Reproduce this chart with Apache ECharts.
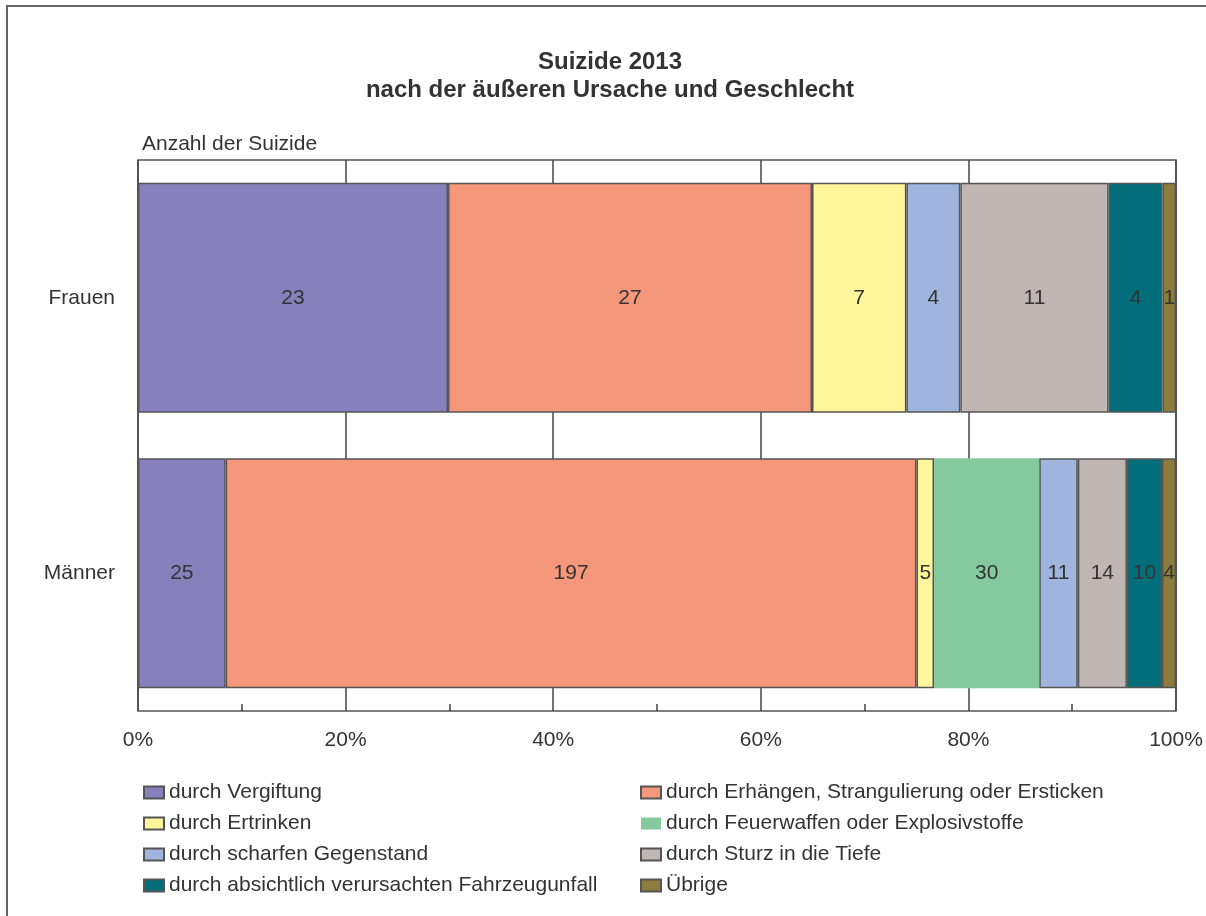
<!DOCTYPE html>
<html><head><meta charset="utf-8">
<script src="https://cdn.jsdelivr.net/npm/echarts@6/dist/echarts.min.js"></script>
<style>html,body{margin:0;padding:0;background:#fff}#c{width:1206px;height:916px}</style>
</head><body><div id="c"></div>
<script>
const categories = ['Frauen', 'Männer'];
const seriesNames = [
  'durch Vergiftung',
  'durch Erhängen, Strangulierung oder Ersticken',
  'durch Ertrinken',
  'durch Feuerwaffen oder Explosivstoffe',
  'durch scharfen Gegenstand',
  'durch Sturz in die Tiefe',
  'durch absichtlich verursachten Fahrzeugunfall',
  'Übrige'
];
const vergiftung = [23, 25];
const erhaengen = [27, 197];
const ertrinken = [7, 5];
const feuerwaffen = [0, 30];
const scharf = [4, 11];
const sturz = [11, 14];
const fahrzeug = [4, 10];
const uebrige = [1, 4];
const colors = ['#8880BD', '#F5977A', '#FFF59A', '#85C99E', '#9FB5DE', '#C0B6B3', '#016E7A', '#8E7C3C'];
const xTicks = [0, 20, 40, 60, 80, 100];

const all = [vergiftung, erhaengen, ertrinken, feuerwaffen, scharf, sturz, fahrzeug, uebrige];
const totals = categories.map((c, i) => all.reduce((s, a) => s + a[i], 0));
const font = 'Liberation Sans, Arial, sans-serif';
const fs = 21;

const series = all.map((arr, k) => ({
  name: seriesNames[k],
  type: 'bar',
  stack: 'total',
  barWidth: 230,
  itemStyle: { color: colors[k], borderColor: '#555', borderWidth: k === 3 ? 0 : 1.5 },
  label: {
    show: true, position: 'inside', color: '#333', fontSize: fs, fontFamily: font,
    formatter: p => (arr[p.dataIndex] > 0 ? String(arr[p.dataIndex]) : '')
  },
  data: arr.map((v, i) => v / totals[i] * 100)
}));

const legendText = { fontSize: fs, color: '#333', fontFamily: font };
const chart = echarts.init(document.getElementById('c'));
chart.setOption({
  animation: false,
  backgroundColor: '#fff',
  textStyle: { fontFamily: font },
  graphic: [
    { type: 'rect', shape: { x: 7, y: 6, width: 1300, height: 1000 }, style: { fill: 'none', stroke: '#666', lineWidth: 2 } },
    { type: 'text', x: 610, y: 62, style: { text: 'Suizide 2013', fontSize: 24, fontWeight: 'bold', fill: '#333', fontFamily: font, align: 'center', verticalAlign: 'middle' } },
    { type: 'text', x: 610, y: 90, style: { text: 'nach der äußeren Ursache und Geschlecht', fontSize: 24, fontWeight: 'bold', fill: '#333', fontFamily: font, align: 'center', verticalAlign: 'middle' } },
    { type: 'text', x: 142, y: 144, style: { text: 'Anzahl der Suizide', fontSize: fs, fill: '#333', fontFamily: font, verticalAlign: 'middle' } }
  ],
  legend: [
    {
      data: [seriesNames[0], seriesNames[2], seriesNames[4], seriesNames[6]],
      orient: 'vertical', left: 138, top: 777, itemWidth: 20, itemHeight: 12, itemGap: 10, icon: 'rect',
      textStyle: legendText, selectedMode: false
    },
    {
      data: [seriesNames[1], seriesNames[3], seriesNames[5], seriesNames[7]],
      orient: 'vertical', left: 635, top: 777, itemWidth: 20, itemHeight: 12, itemGap: 10, icon: 'rect',
      textStyle: legendText, selectedMode: false
    }
  ],
  grid: { left: 138, right: 30, top: 160, bottom: 205, show: true, borderColor: '#555', borderWidth: 1.5, backgroundColor: '#fff' },
  xAxis: {
    type: 'value', min: xTicks[0], max: xTicks[xTicks.length - 1], interval: 20,
    axisLine: { show: false },
    axisTick: { show: false, inside: true },
    minorTick: { show: true, splitNumber: 2, length: 7, lineStyle: { color: '#444', width: 1.5 } },
    minorSplitLine: { show: false },
    splitLine: { show: true, lineStyle: { color: '#444', width: 1.5 } },
    axisLabel: { formatter: v => v + '%', fontSize: fs, color: '#333', margin: 19, fontFamily: font }
  },
  yAxis: {
    type: 'category', data: categories, inverse: true,
    axisLine: { show: false }, axisTick: { show: false },
    axisLabel: { fontSize: fs, color: '#333', margin: 23, fontFamily: font }
  },
  series: series
});
</script>
</body></html>
